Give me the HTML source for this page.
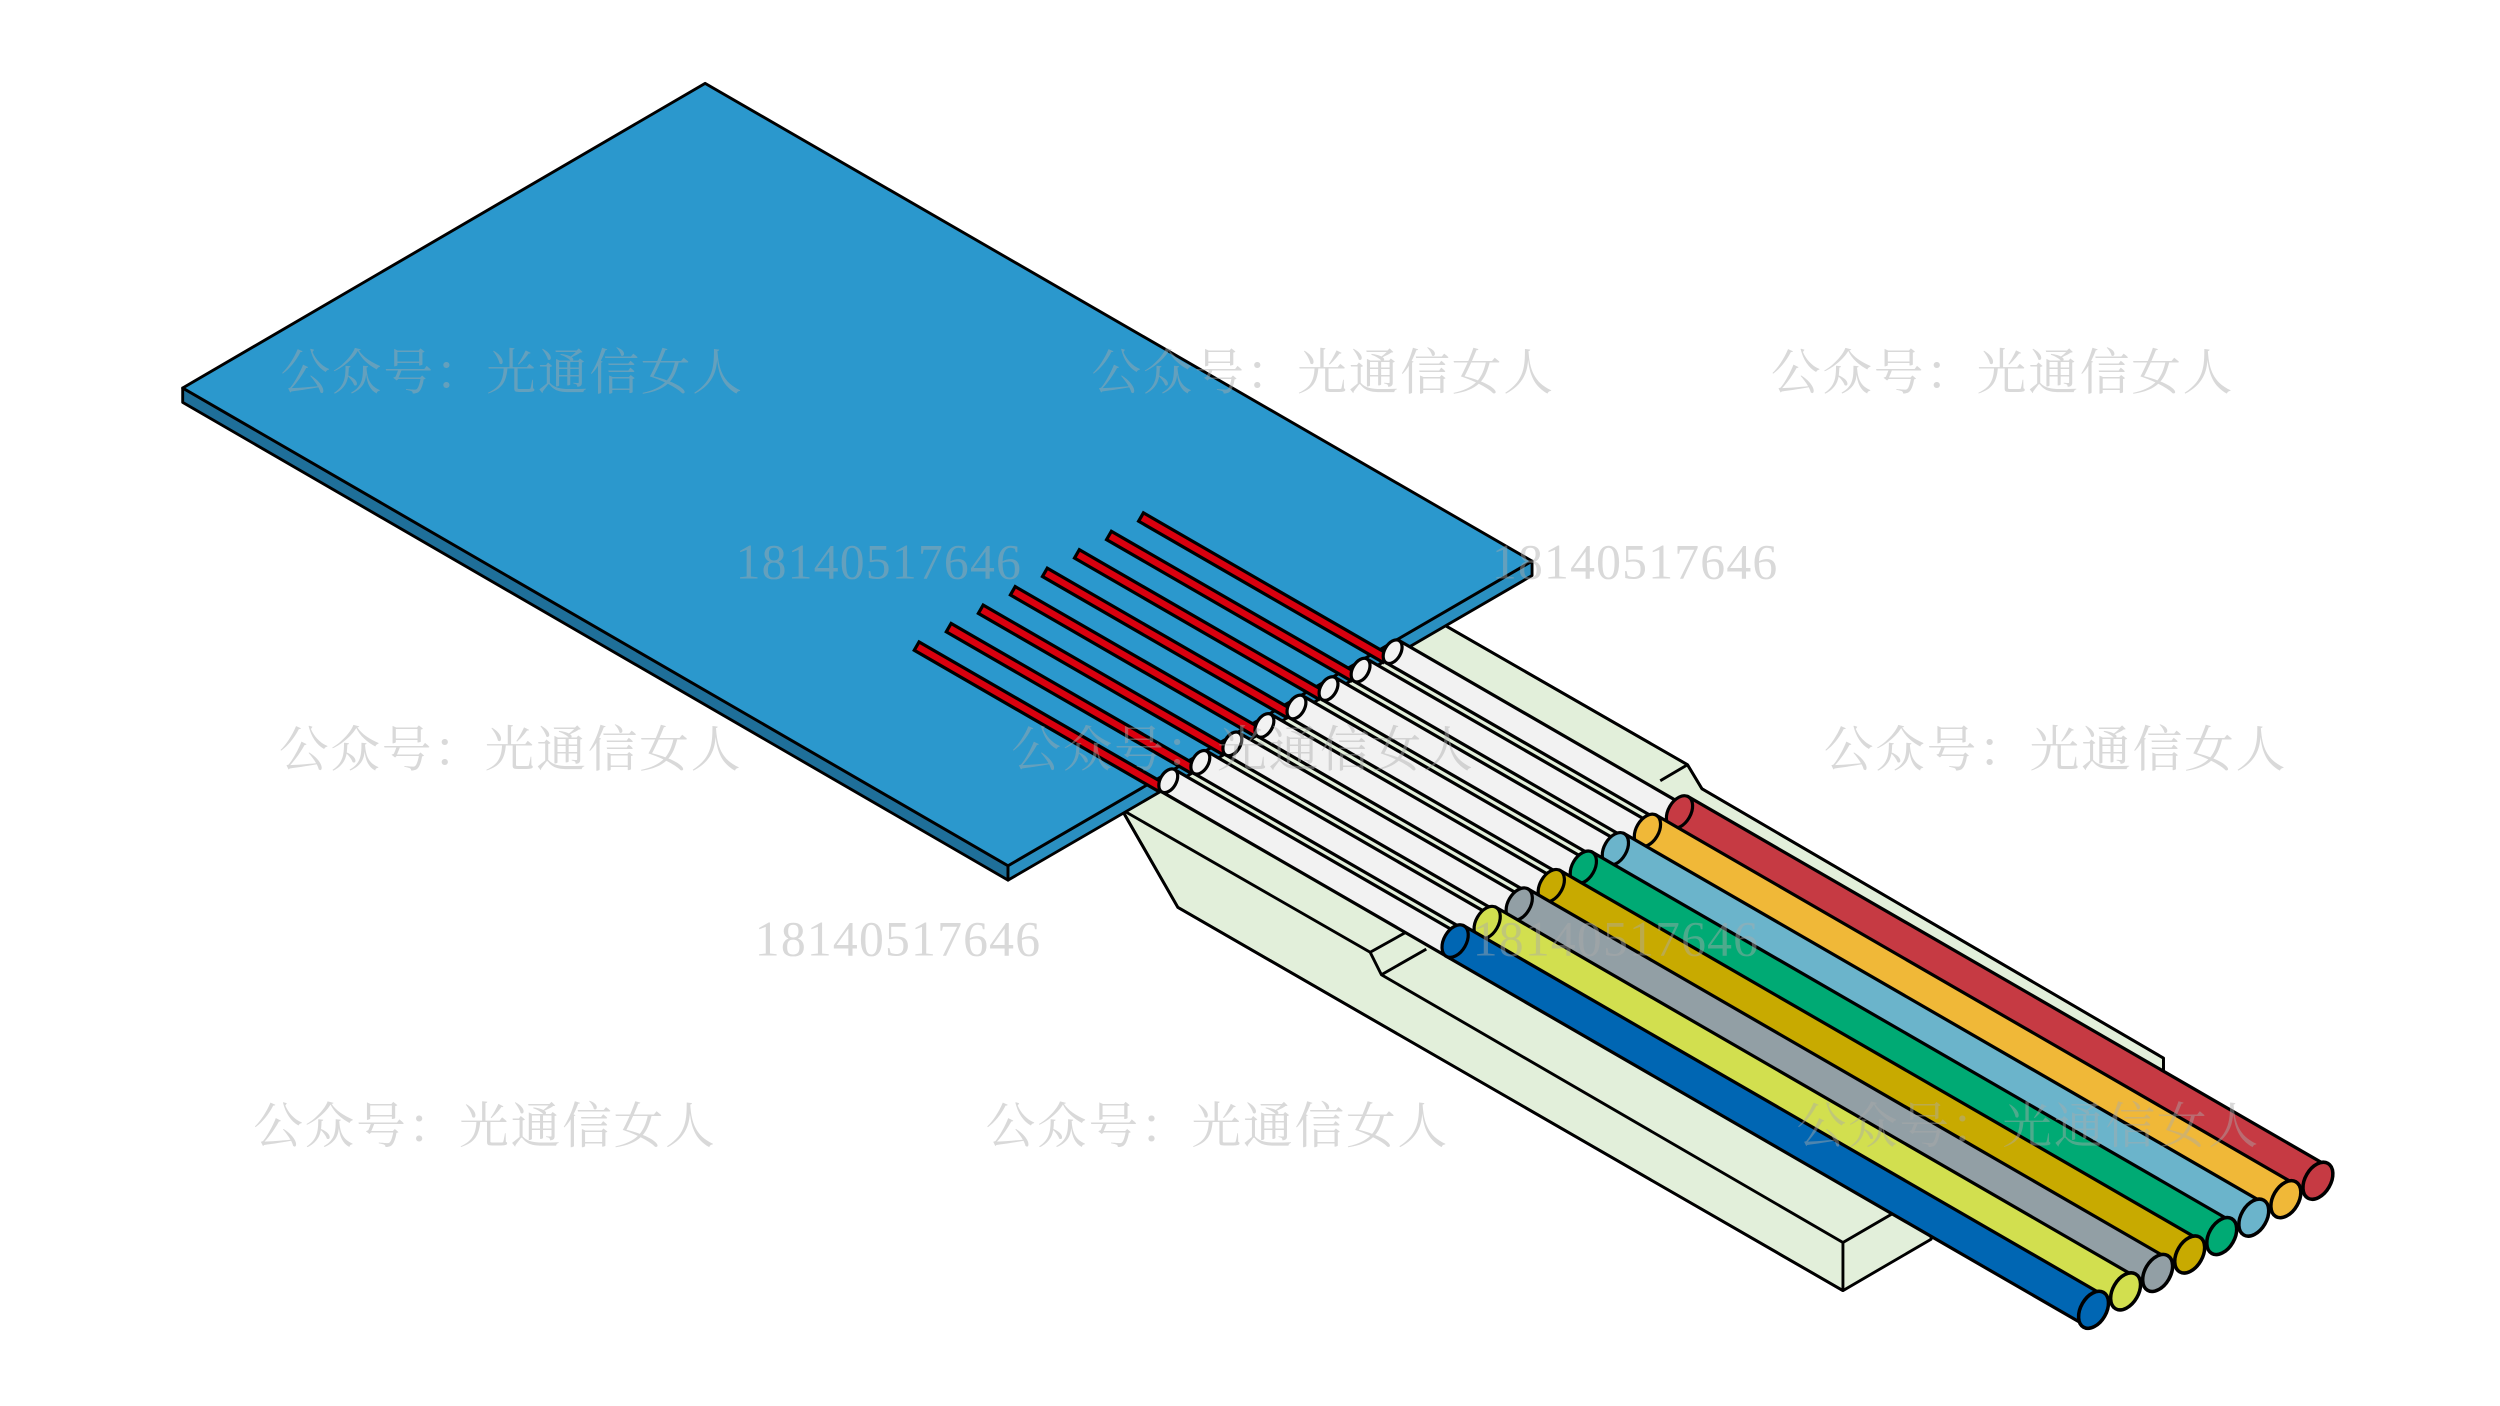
<!DOCTYPE html>
<html><head><meta charset="utf-8"><style>html,body{margin:0;padding:0;background:#fff}svg{display:block}</style></head>
<body>
<svg width="2500" height="1406" viewBox="0 0 1560 877" preserveAspectRatio="none" xmlns="http://www.w3.org/2000/svg">
<g stroke="#000" stroke-width="1.8" stroke-linejoin="round" fill="#e2efda">
  <polygon points="700,505 898,388 1053,477 1062,492 1350,660 1350,668 1205,752 1205,773 1150,805 735,566"/>
  <polyline fill="none" points="700,505 735,566 1150,805"/>
  <polyline fill="none" points="700,505 855,594 862,608 1150,775 1150,805"/>
  <polyline fill="none" points="862,608 890,592"/>
  <polyline fill="none" points="855,594 880,580"/>
  <polyline fill="none" points="1150,775 1205,743"/>
  <polyline fill="none" points="898,388 1053,477 1062,492 1350,660 1350,668"/>
  <polyline fill="none" points="1053,477 1036,487"/>
</g>
<g stroke="#000" stroke-width="1.8" stroke-linejoin="round">
  <polygon points="114,242 629,540 629,549 114,251" fill="#1f6f99"/>
  <polygon points="629,540 956,350 956,359 629,549" fill="#2a8fc0"/>
  <polygon points="440,52 956,350 629,540 114,242" fill="#2b98cd"/>
</g>
<g stroke="#000" stroke-width="2">
<g transform="translate(140,-80.5)">
  <g transform="translate(572,403) rotate(30)"><rect x="0" y="-3" width="176" height="6" fill="#d9000e"/></g>
  <g transform="translate(729,487) rotate(30)"><rect x="0" y="-8" width="207" height="16" fill="#f2f2f2"/><ellipse cx="0" cy="0" rx="5" ry="8" fill="#f2f2f2"/></g>
  <g transform="translate(908,587) rotate(30)"><rect x="0" y="-11" width="460" height="22" fill="#c63a43"/><ellipse cx="0" cy="0" rx="7" ry="11" fill="#c63a43"/><ellipse cx="460" cy="0" rx="8" ry="12.5" fill="#c63a43" stroke-width="2.2"/></g>
</g>
<g transform="translate(120,-69)">
  <g transform="translate(572,403) rotate(30)"><rect x="0" y="-3" width="176" height="6" fill="#d9000e"/></g>
  <g transform="translate(729,487) rotate(30)"><rect x="0" y="-8" width="207" height="16" fill="#f2f2f2"/><ellipse cx="0" cy="0" rx="5" ry="8" fill="#f2f2f2"/></g>
  <g transform="translate(908,587) rotate(30)"><rect x="0" y="-11" width="460" height="22" fill="#f0b838"/><ellipse cx="0" cy="0" rx="7" ry="11" fill="#f0b838"/><ellipse cx="460" cy="0" rx="8" ry="12.5" fill="#f0b838" stroke-width="2.2"/></g>
</g>
<g transform="translate(100,-57.5)">
  <g transform="translate(572,403) rotate(30)"><rect x="0" y="-3" width="176" height="6" fill="#d9000e"/></g>
  <g transform="translate(729,487) rotate(30)"><rect x="0" y="-8" width="207" height="16" fill="#f2f2f2"/><ellipse cx="0" cy="0" rx="5" ry="8" fill="#f2f2f2"/></g>
  <g transform="translate(908,587) rotate(30)"><rect x="0" y="-11" width="460" height="22" fill="#6bb4cb"/><ellipse cx="0" cy="0" rx="7" ry="11" fill="#6bb4cb"/><ellipse cx="460" cy="0" rx="8" ry="12.5" fill="#6bb4cb" stroke-width="2.2"/></g>
</g>
<g transform="translate(80,-46)">
  <g transform="translate(572,403) rotate(30)"><rect x="0" y="-3" width="176" height="6" fill="#d9000e"/></g>
  <g transform="translate(729,487) rotate(30)"><rect x="0" y="-8" width="207" height="16" fill="#f2f2f2"/><ellipse cx="0" cy="0" rx="5" ry="8" fill="#f2f2f2"/></g>
  <g transform="translate(908,587) rotate(30)"><rect x="0" y="-11" width="460" height="22" fill="#00aa74"/><ellipse cx="0" cy="0" rx="7" ry="11" fill="#00aa74"/><ellipse cx="460" cy="0" rx="8" ry="12.5" fill="#00aa74" stroke-width="2.2"/></g>
</g>
<g transform="translate(60,-34.5)">
  <g transform="translate(572,403) rotate(30)"><rect x="0" y="-3" width="176" height="6" fill="#d9000e"/></g>
  <g transform="translate(729,487) rotate(30)"><rect x="0" y="-8" width="207" height="16" fill="#f2f2f2"/><ellipse cx="0" cy="0" rx="5" ry="8" fill="#f2f2f2"/></g>
  <g transform="translate(908,587) rotate(30)"><rect x="0" y="-11" width="460" height="22" fill="#c8aa00"/><ellipse cx="0" cy="0" rx="7" ry="11" fill="#c8aa00"/><ellipse cx="460" cy="0" rx="8" ry="12.5" fill="#c8aa00" stroke-width="2.2"/></g>
</g>
<g transform="translate(40,-23)">
  <g transform="translate(572,403) rotate(30)"><rect x="0" y="-3" width="176" height="6" fill="#d9000e"/></g>
  <g transform="translate(729,487) rotate(30)"><rect x="0" y="-8" width="207" height="16" fill="#f2f2f2"/><ellipse cx="0" cy="0" rx="5" ry="8" fill="#f2f2f2"/></g>
  <g transform="translate(908,587) rotate(30)"><rect x="0" y="-11" width="460" height="22" fill="#929fa5"/><ellipse cx="0" cy="0" rx="7" ry="11" fill="#929fa5"/><ellipse cx="460" cy="0" rx="8" ry="12.5" fill="#929fa5" stroke-width="2.2"/></g>
</g>
<g transform="translate(20,-11.5)">
  <g transform="translate(572,403) rotate(30)"><rect x="0" y="-3" width="176" height="6" fill="#d9000e"/></g>
  <g transform="translate(729,487) rotate(30)"><rect x="0" y="-8" width="207" height="16" fill="#f2f2f2"/><ellipse cx="0" cy="0" rx="5" ry="8" fill="#f2f2f2"/></g>
  <g transform="translate(908,587) rotate(30)"><rect x="0" y="-11" width="460" height="22" fill="#d2df4f"/><ellipse cx="0" cy="0" rx="7" ry="11" fill="#d2df4f"/><ellipse cx="460" cy="0" rx="8" ry="12.5" fill="#d2df4f" stroke-width="2.2"/></g>
</g>
<g>
  <g transform="translate(572,403) rotate(30)"><rect x="0" y="-3" width="176" height="6" fill="#d9000e"/></g>
  <g transform="translate(729,487) rotate(30)"><rect x="0" y="-8" width="207" height="16" fill="#f2f2f2"/><ellipse cx="0" cy="0" rx="5" ry="8" fill="#f2f2f2"/></g>
  <g transform="translate(908,587) rotate(30)"><rect x="0" y="-11" width="460" height="22" fill="#0066b3"/><ellipse cx="0" cy="0" rx="7" ry="11" fill="#0066b3"/><ellipse cx="460" cy="0" rx="8" ry="12.5" fill="#0066b3" stroke-width="2.2"/></g>
</g>
</g>
<g font-family="'Liberation Serif','Noto Serif CJK SC',serif" font-size="31" fill="rgba(170,170,170,0.45)">
  <text x="175" y="243" textLength="288">公众号：光通信女人</text>
  <text x="681" y="243" textLength="288">公众号：光通信女人</text>
  <text x="1105" y="243" textLength="288">公众号：光通信女人</text>
  <text x="174" y="478" textLength="288">公众号：光通信女人</text>
  <text x="631" y="478" textLength="288">公众号：光通信女人</text>
  <text x="1138" y="478" textLength="288">公众号：光通信女人</text>
  <text x="158" y="713" textLength="288">公众号：光通信女人</text>
  <text x="615" y="713" textLength="288">公众号：光通信女人</text>
  <text x="1121" y="713" textLength="288">公众号：光通信女人</text>
  <text x="459" y="361" textLength="178">18140517646</text>
  <text x="931" y="361" textLength="178">18140517646</text>
  <text x="471" y="596" textLength="178">18140517646</text>
  <text x="919" y="596" textLength="178">18140517646</text>
</g>
</svg>
</body></html>
